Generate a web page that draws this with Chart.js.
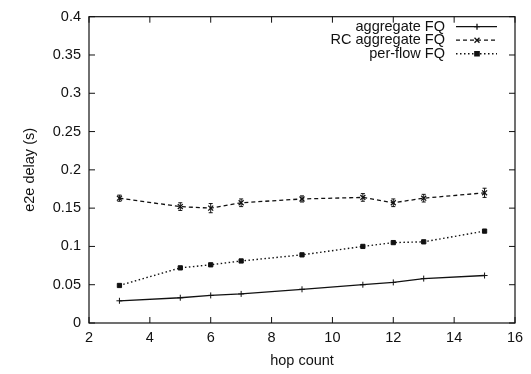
<!DOCTYPE html>
<html>
<head>
<meta charset="utf-8">
<script src="https://cdn.jsdelivr.net/npm/chart.js@4.4.0/dist/chart.umd.min.js"></script>
<style>
  html, body { margin: 0; padding: 0; background: #fff; }
  #wrap { width: 531px; height: 374px; }
</style>
</head>
<body>
<div id="wrap"><canvas id="delayChart" width="531" height="374"></canvas></div>
<script>
// values
const hops = [3, 5, 6, 7, 9, 11, 12, 13, 15];
const aggregateFQ = [0.029, 0.033, 0.036, 0.038, 0.044, 0.050, 0.053, 0.058, 0.062];
const rcAggregateFQ = [0.163, 0.152, 0.150, 0.157, 0.162, 0.164, 0.157, 0.163, 0.170];
const rcError = [0.004, 0.005, 0.006, 0.005, 0.004, 0.005, 0.005, 0.005, 0.006];
const perFlowFQ = [0.049, 0.072, 0.076, 0.081, 0.089, 0.100, 0.105, 0.106, 0.120];
const labels = ['aggregate FQ', 'RC aggregate FQ', 'per-flow FQ'];

const FONT = 'Liberation Sans, Arial, sans-serif';
const INK = '#111';

function pts(ys) {
  return hops.map((x, i) => ({ x: x, y: ys[i] }));
}

// 1. box + inward ticks on all four sides (gnuplot style)
const frame = {
  id: 'frame',
  afterDatasetsDraw(chart) {
    const { ctx, chartArea: a, scales } = chart;
    ctx.save();
    ctx.strokeStyle = INK;
    ctx.lineWidth = 1.2;
    ctx.strokeRect(a.left, a.top, a.right - a.left, a.bottom - a.top);
    ctx.lineWidth = 1;
    ctx.beginPath();
    scales.x.ticks.forEach(t => {
      const px = scales.x.getPixelForValue(t.value);
      ctx.moveTo(px, a.bottom); ctx.lineTo(px, a.bottom - 6);
      ctx.moveTo(px, a.top); ctx.lineTo(px, a.top + 6);
    });
    scales.y.ticks.forEach(t => {
      const py = scales.y.getPixelForValue(t.value);
      ctx.moveTo(a.left, py); ctx.lineTo(a.left + 6, py);
      ctx.moveTo(a.right, py); ctx.lineTo(a.right - 6, py);
    });
    ctx.stroke();
    ctx.restore();
  }
};

// 2. error bars for the RC series
const errorBars = {
  id: 'errorBars',
  afterDatasetsDraw(chart) {
    const { ctx, scales } = chart;
    ctx.save();
    ctx.strokeStyle = INK;
    ctx.lineWidth = 1;
    ctx.setLineDash([]);
    ctx.beginPath();
    hops.forEach((x, i) => {
      const px = scales.x.getPixelForValue(x);
      const lo = scales.y.getPixelForValue(rcAggregateFQ[i] - rcError[i]);
      const hi = scales.y.getPixelForValue(rcAggregateFQ[i] + rcError[i]);
      ctx.moveTo(px, lo); ctx.lineTo(px, hi);
      ctx.moveTo(px - 2, lo); ctx.lineTo(px + 2, lo);
      ctx.moveTo(px - 2, hi); ctx.lineTo(px + 2, hi);
    });
    ctx.stroke();
    ctx.restore();
  }
};

// 3. legend in the top-right corner, text then line sample
const keyBox = {
  id: 'keyBox',
  afterDraw(chart) {
    const { ctx, chartArea: a } = chart;
    ctx.save();
    ctx.font = '14.5px ' + FONT;
    ctx.fillStyle = INK;
    ctx.textAlign = 'right';
    ctx.textBaseline = 'middle';
    chart.data.datasets.forEach((ds, i) => {
      const y = a.top + 10 + i * 13.5;
      const xr = a.right - 18;
      ctx.fillText(ds.label, xr - 52, y);
      ctx.strokeStyle = INK;
      ctx.lineWidth = ds.borderWidth;
      ctx.setLineDash(ds.borderDash || []);
      ctx.beginPath();
      ctx.moveTo(xr - 41, y); ctx.lineTo(xr, y);
      ctx.stroke();
      ctx.setLineDash([]);
      Chart.helpers.drawPoint(ctx, {
        pointStyle: ds.pointStyle, radius: ds.pointRadius, borderWidth: 1
      }, xr - 20, y);
    });
    ctx.restore();
  }
};

new Chart(document.getElementById('delayChart'), {
  type: 'line',
  data: {
    datasets: [
      {
        label: labels[0], data: pts(aggregateFQ),
        borderColor: INK, backgroundColor: INK, borderWidth: 1.3,
        pointStyle: 'cross', pointRadius: 3, pointBorderWidth: 1
      },
      {
        label: labels[1], data: pts(rcAggregateFQ),
        borderColor: INK, backgroundColor: INK, borderWidth: 1.3, borderDash: [4, 3],
        pointStyle: 'crossRot', pointRadius: 3.5, pointBorderWidth: 1.3
      },
      {
        label: labels[2], data: pts(perFlowFQ),
        borderColor: INK, backgroundColor: INK, borderWidth: 1.4, borderDash: [1.5, 2.5],
        pointStyle: 'rect', pointRadius: 3, pointBorderWidth: 1
      }
    ]
  },
  options: {
    responsive: false,
    animation: false,
    layout: { padding: { left: 17, right: 16, top: 14, bottom: 0 } },
    plugins: { legend: { display: false }, tooltip: { enabled: false } },
    scales: {
      x: {
        type: 'linear', min: 2, max: 16,
        grid: { display: false, drawTicks: false }, border: { display: false },
        ticks: { stepSize: 2, color: INK, padding: 6, font: { family: FONT, size: 14.5 } },
        title: { display: true, text: 'hop count', color: INK, padding: { top: 2, bottom: 4 }, font: { family: FONT, size: 14.5 } },
        afterFit(s) { s.height = 51; }
      },
      y: {
        min: 0, max: 0.4,
        grid: { display: false, drawTicks: false }, border: { display: false },
        ticks: {
          stepSize: 0.05, color: INK, padding: 8, font: { family: FONT, size: 14.5 },
          callback: v => String(+v.toFixed(2))
        },
        title: { display: true, text: 'e2e delay (s)', color: INK, padding: { bottom: 6 }, font: { family: FONT, size: 14.5 } },
        afterFit(s) { s.width = 72; }
      }
    }
  },
  plugins: [frame, errorBars, keyBox]
});
</script>
</body>
</html>
